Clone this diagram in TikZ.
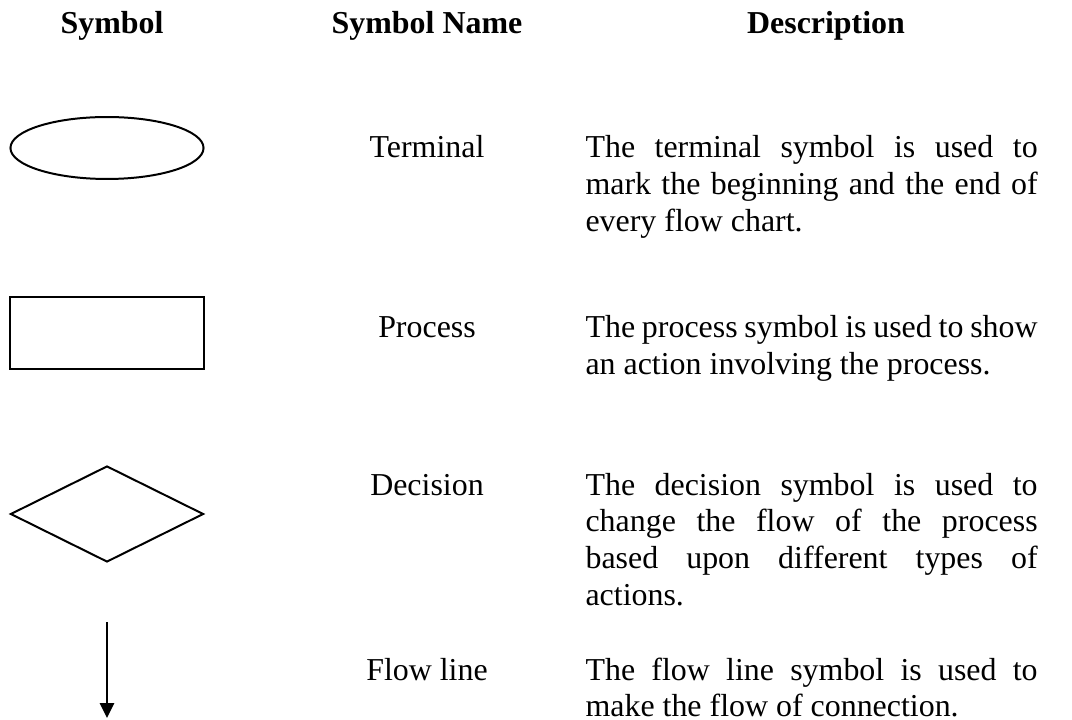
\documentclass[tikz,border=0pt]{standalone}
\usepackage{fontspec}
\setmainfont{Liberation Serif}
\usetikzlibrary{shapes.geometric,arrows.meta}

\begin{document}
\begin{tikzpicture}[x=0.376pt,y=-0.376pt]
	\tikzstyle{hd}=[font=\bfseries\fontsize{12}{13.8}\selectfont, anchor=base, inner sep=0pt]
	\tikzstyle{nm}=[font=\fontsize{12}{13.8}\selectfont, anchor=base, inner sep=0pt]
	\tikzstyle{ds}=[font=\fontsize{12}{13.8}\selectfont, anchor=base west, text width=170pt, align=justify, inner sep=0pt]
	\tikzstyle{sym}=[draw, line width=0.75pt, inner sep=0pt, minimum width=72.6pt]

	\useasboundingbox (0,0) rectangle (1072,720);

	% column heads
	\node[hd] (hsym) at (112,34) {Symbol};
	\node[hd] (hname) at (427,34) {Symbol Name};
	\node[hd] (hdesc) at (826,34) {Description};

	% the symbols
	\node[sym, ellipse, minimum height=23.3pt] (term) at (107,148) {};
	\node[sym, rectangle, minimum height=27.1pt] (proc) at (107,333) {};
	\node[sym, diamond, minimum height=36.1pt] (dec) at (107,514) {};
	\coordinate (ftop) at (107,622);
	\coordinate (fend) at (107,718);
	\draw[line width=0.75pt, -{Triangle[length=5.6pt,width=5.3pt]}] (ftop) -- (fend);

	% names and descriptions
	\node[nm] (nterm) at (427,158) {Terminal};
	\node[ds] (dterm) at (585,158) {The terminal symbol is used to\linebreak mark the beginning and the end of\linebreak every flow chart.};
	\node[nm] (nproc) at (427,338) {Process};
	\node[ds] (dproc) at (585,338) {The process symbol is used to show\linebreak an action involving the process.};
	\node[nm] (ndec) at (427,495) {Decision};
	\node[ds] (ddec) at (585,495) {The decision symbol is used to\linebreak change the flow of the process\linebreak based upon different types of\linebreak actions.};
	\node[nm] (nflow) at (427,680) {Flow line};
	\node[ds] (dflow) at (585,680) {The flow line symbol is used to\linebreak make the flow of connection.};
\end{tikzpicture}
\end{document}
